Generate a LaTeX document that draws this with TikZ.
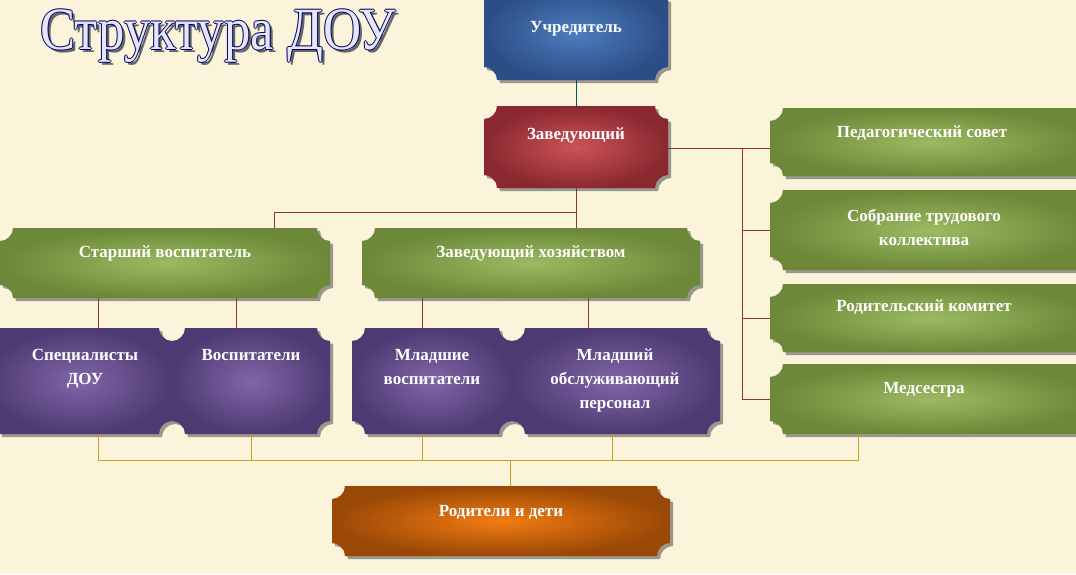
\documentclass[tikz,border=0pt]{standalone}
\usepackage{fontspec}
\setmainfont{Liberation Serif}
\begin{document}
\begin{tikzpicture}[x=1pt,y=-1pt,
  conn/.style={draw=red!45!black!80, line width=0.8pt},
  bconn/.style={draw=brown!60!yellow!90!black, line width=0.8pt},
  lbl/.style={text=white, font=\bfseries\fontsize{17}{21}\selectfont, align=center, anchor=north, inner sep=0pt},
  ttl/.style={anchor=west, inner sep=0pt, xscale=0.88, font=\fontsize{60}{60}\selectfont}]
\definecolor{bg}{HTML}{FBF4DA}
\fill[bg] (0,0) rectangle (1076,574);
\useasboundingbox (0,0) rectangle (1076,574);
\newcommand\scpath[4]{(#1+13,#2) -- (#3-13,#2) .. controls (#3-13,#2+7) and (#3-7,#2+13) .. (#3,#2+13) -- (#3,#4-13) .. controls (#3-7,#4-13) and (#3-13,#4-7) .. (#3-13,#4) -- (#1+13,#4) .. controls (#1+13,#4-7) and (#1+7,#4-13) .. (#1,#4-13) -- (#1,#2+13) .. controls (#1+7,#2+13) and (#1+13,#2+7) .. (#1+13,#2) -- cycle}
\newcommand\scbox[7]{%
  \fill[black!70, opacity=.55] [shift={(3,3)}] \scpath{#2}{#3}{#4}{#5};
  \shade[inner color=#6, outer color=#7] \scpath{#2}{#3}{#4}{#5};
  \node[inner sep=0pt, minimum width=#4-#2, minimum height=#5-#3] (#1) at ({(#2+#4)/2},{(#3+#5)/2}) {};}
\definecolor{bI}{HTML}{4C7DBE}\definecolor{bO}{HTML}{2C4E86}
\definecolor{rI}{HTML}{CC5458}\definecolor{rO}{HTML}{8A2830}
\definecolor{gI}{HTML}{9CBA62}\definecolor{gO}{HTML}{6C8838}
\definecolor{pI}{HTML}{8066A8}\definecolor{pO}{HTML}{4E3A72}
\definecolor{oI}{HTML}{F27C12}\definecolor{oO}{HTML}{9A4806}
\coordinate (busR) at (742,148);
\coordinate (busB) at (510,460);
\scbox{u}{484}{-14}{668}{80}{bI}{bO}
\scbox{z}{484}{106}{668}{188}{rI}{rO}
\scbox{st}{0}{228}{330}{298}{gI}{gO}
\scbox{zh}{362}{228}{700}{298}{gI}{gO}
\scbox{sp}{-14}{328}{172}{434}{pI}{pO}
\scbox{vo}{172}{328}{330}{434}{pI}{pO}
\scbox{mv}{352}{328}{512}{434}{pI}{pO}
\scbox{mo}{512}{328}{720}{434}{pI}{pO}
\scbox{ps}{770}{108}{1090}{176}{gI}{gO}
\scbox{so}{770}{190}{1090}{270}{gI}{gO}
\scbox{rk}{770}{284}{1090}{352}{gI}{gO}
\scbox{ms}{770}{364}{1090}{434}{gI}{gO}
\scbox{rd}{332}{486}{670}{556}{oI}{oO}
\draw[draw=teal!70!black, line width=0.8pt] (u.south) -- (z.north);
\draw[conn] (z.south) -- ++(0,24) coordinate (zj) -| ([xshift=109]st.north);
\draw[conn] (zj) -- (zh.north -| zj);
\draw[conn] (z.east |- busR) -- (busR) -- (busR |- ms.west) -- (ms.west);
\draw[conn] (busR) -- (ps.west |- busR);
\draw[conn] (busR |- so.west) -- (so.west);
\draw[conn] (busR |- rk.west) -- (rk.west);
\draw[conn] ([xshift=-67]st.south) -- ([xshift=-67]st.south |- sp.north);
\draw[conn] ([xshift=71]st.south) -- ([xshift=71]st.south |- vo.north);
\draw[conn] ([xshift=-109]zh.south) -- ([xshift=-109]zh.south |- mv.north);
\draw[conn] ([xshift=57]zh.south) -- ([xshift=57]zh.south |- mo.north);
\draw[bconn] ([xshift=-67]st.south |- sp.south) -- ++(0,26) coordinate (b1) -- ([xshift=-72]ms.south |- b1) -- ([xshift=-72]ms.south);
\draw[bconn] (vo.south) -- (vo.south |- b1);
\draw[bconn] ([xshift=-10]mv.south) -- ([xshift=-10]mv.south |- b1);
\draw[bconn] ([xshift=-4]mo.south) -- ([xshift=-4]mo.south |- b1);
\draw[bconn] (busB) -- (rd.north -| busB);
% labels
\node[lbl] at (576,21) {Учредитель};
\node[lbl] at (576,128) {Заведующий};
\node[lbl] at (165,246) {Старший воспитатель};
\node[lbl] at (531,246) {Заведующий хозяйством};
\node[lbl] at (85,349) {Специалисты\\[3pt]ДОУ};
\node[lbl] at (251,349) {Воспитатели};
\node[lbl] at (432,349) {Младшие\\[3pt]воспитатели};
\node[lbl] at (615,349) {Младший\\[3pt]обслуживающий\\[3pt]персонал};
\node[lbl] at (922,126) {Педагогический совет};
\node[lbl] at (924,209) {Собрание трудового\\[3pt]коллектива};
\node[lbl] at (924,300) {Родительский комитет};
\node[lbl] at (924,382) {Медсестра};
\node[lbl] at (501,505) {Родители и дети};
% title
\node[ttl, text=black!60] at (43,39) {Структура ДОУ};
\foreach \dx/\dy in {-1/0,1/0,0/-1,0/1} {
  \node[ttl, text=blue!35!black] at (40+\dx,36+\dy) {Структура ДОУ};}
\node[ttl, text=blue!10!white] (title) at (40,36) {Структура ДОУ};
\end{tikzpicture}
\end{document}
